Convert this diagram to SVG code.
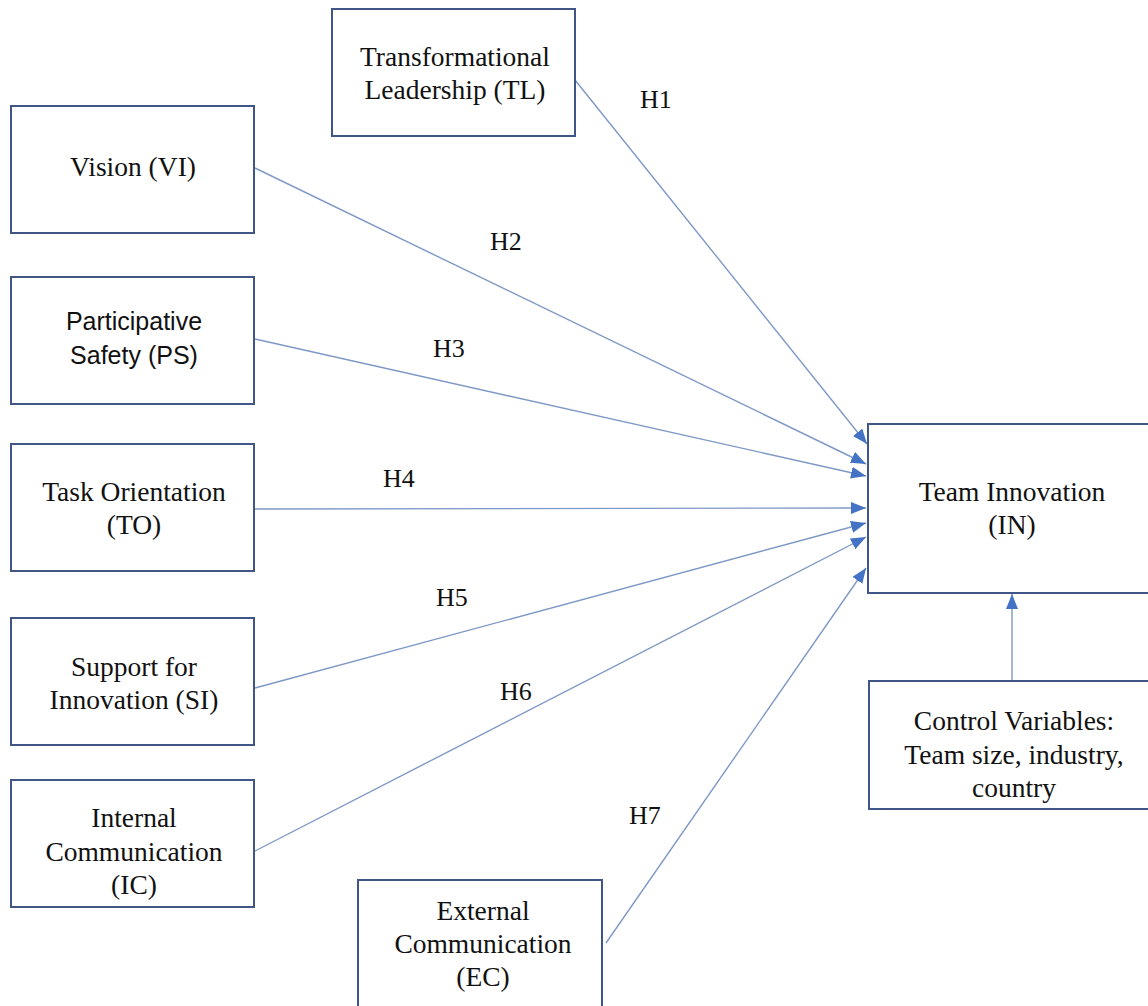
<svg xmlns="http://www.w3.org/2000/svg" width="1148" height="1006" viewBox="0 0 1148 1006">
<defs>
<style>
.box{fill:#fff;stroke:#3F5687;stroke-width:2}
.t{font-family:"Liberation Serif","Times New Roman",serif;font-size:27.5px;fill:#111;text-anchor:middle}
.s{font-family:"Liberation Sans",Arial,sans-serif;font-size:25px;fill:#111;text-anchor:middle}
.c{stroke:#7E98C6;stroke-width:1.4;fill:none;marker-end:url(#ah)}
.h{font-family:"Liberation Serif","Times New Roman",serif;font-size:26px;fill:#111}
</style>
<marker id="ah" markerUnits="userSpaceOnUse" markerWidth="16" markerHeight="14" refX="15" refY="6" orient="auto">
<path d="M0,0 L15,6 L0,12 Z" fill="#4472C4"/>
</marker>
</defs>
<rect width="1148" height="1006" fill="#fff"/>
<g id="connectors">
<line class="c" x1="575" y1="80" x2="867" y2="444"/>
<line class="c" x1="255" y1="168" x2="866" y2="464"/>
<line class="c" x1="255" y1="339" x2="866" y2="476"/>
<line class="c" x1="255" y1="509" x2="866" y2="508"/>
<line class="c" x1="255" y1="688" x2="866" y2="523"/>
<line class="c" x1="255" y1="851" x2="866" y2="537"/>
<line class="c" x1="606" y1="943" x2="866" y2="568"/>
<line class="c" x1="1012" y1="681" x2="1012" y2="594"/>
<text class="h" x="640" y="108">H1</text>
<text class="h" x="490" y="250">H2</text>
<text class="h" x="433" y="357">H3</text>
<text class="h" x="383" y="487">H4</text>
<text class="h" x="436" y="606">H5</text>
<text class="h" x="500" y="700">H6</text>
<text class="h" x="629" y="824">H7</text>
</g>
<g id="TL"><rect class="box" x="332" y="9" width="243" height="127"/>
<text class="t" x="455" y="66">Transformational</text><text class="t" x="455" y="99">Leadership (TL)</text></g>
<g id="VI"><rect class="box" x="11" y="106" width="243" height="127"/>
<text class="t" x="133" y="176">Vision (VI)</text></g>
<g id="PS"><rect class="box" x="11" y="277" width="243" height="127"/>
<text class="s" x="134" y="330">Participative</text><text class="s" x="134" y="364">Safety (PS)</text></g>
<g id="TO"><rect class="box" x="11" y="444" width="243" height="127"/>
<text class="t" x="134" y="501">Task Orientation</text><text class="t" x="134" y="534">(TO)</text></g>
<g id="SI"><rect class="box" x="11" y="618" width="243" height="127"/>
<text class="t" x="134" y="676">Support for</text><text class="t" x="134" y="709">Innovation (SI)</text></g>
<g id="IC"><rect class="box" x="11" y="780" width="243" height="127"/>
<text class="t" x="134" y="827">Internal</text><text class="t" x="134" y="861">Communication</text><text class="t" x="134" y="894">(IC)</text></g>
<g id="EC"><rect class="box" x="358" y="880" width="244" height="130"/>
<text class="t" x="483" y="920">External</text><text class="t" x="483" y="953">Communication</text><text class="t" x="483" y="986">(EC)</text></g>
<g id="IN"><rect class="box" x="868" y="424" width="282" height="169"/>
<text class="t" x="1012" y="501">Team Innovation</text><text class="t" x="1012" y="534">(IN)</text></g>
<g id="CV"><rect class="box" x="869" y="681" width="281" height="128"/>
<text class="t" x="1014" y="730">Control Variables:</text><text class="t" x="1014" y="764">Team size, industry,</text><text class="t" x="1014" y="797">country</text></g>
</svg>
